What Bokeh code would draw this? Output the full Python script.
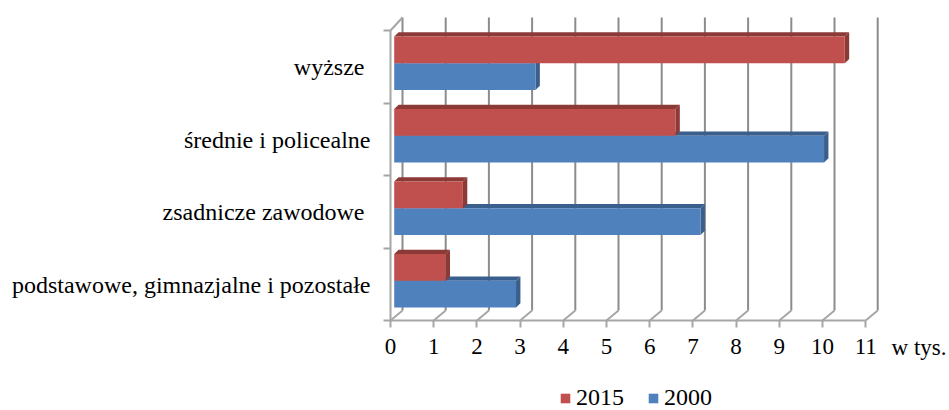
from bokeh.plotting import figure
from bokeh.models import Range1d, FixedTicker, Legend, LegendItem, Label
from bokeh.embed import file_html
from bokeh.resources import INLINE

categories = ["podstawowe, gimnazjalne i pozostałe", "zsadnicze zawodowe\u00a0", "średnie i policealne", "wyższe\u00a0"]
series_2015 = [1.19, 1.59, 6.51, 10.43]
series_2000 = [2.82, 7.09, 9.95, 3.27]
x_ticks = list(range(0, 12))
y_bounds = [0, 1, 2, 3, 4]
year_labels = ["2015", "2000"]
unit_label = "w tys."

RED, RED_DARK = "#C0504D", "#8C3A38"
BLUE, BLUE_DARK = "#4F81BD", "#3A5F8C"
GRID = "#8C8C8C"
AXIS = "#A6A6A6"
FONT = "Liberation Serif"

W, H = 949, 410
ORIGIN_X, ORIGIN_Y = 390, 320
PX_X, PX_Y = 43.2, 72.5
INSET = 3.7 / PX_X          # bars stand slightly off the wall
BAR_H = 26.8 / PX_Y
GAP = 13 / PX_Y
BAR_DX, BAR_DY = 4.4 / PX_X, 4.2 / PX_Y
WALL_DX, WALL_DY_B, WALL_DY_T = 12 / PX_X, 10 / PX_Y, 13 / PX_Y

p = figure(width=W, height=H, output_backend="svg", toolbar_location=None,
           x_range=Range1d(-ORIGIN_X / PX_X, (W - ORIGIN_X) / PX_X),
           y_range=Range1d(-(H - ORIGIN_Y) / PX_Y, ORIGIN_Y / PX_Y),
           min_border=0, outline_line_color=None)
p.grid.visible = False

# back wall gridlines and floor diagonals
top = max(y_bounds) + WALL_DY_T
gx = [t + WALL_DX for t in x_ticks]
p.segment(gx, [WALL_DY_B] * len(gx), gx, [top] * len(gx), line_color=GRID, line_width=2)
p.segment(x_ticks, [0] * len(gx), gx, [WALL_DY_B] * len(gx), line_color=AXIS, line_width=2)
p.segment([0], [max(y_bounds)], [WALL_DX], [top], line_color=AXIS, line_width=2)

def boxes(values, offset):
    bottoms = [i + GAP + offset for i in range(len(values))]
    tops = [b + BAR_H for b in bottoms]
    rights = [INSET + v for v in values]
    return bottoms, tops, rights

def draw_depth(values, offset, dark):
    b, t, r = boxes(values, offset)
    xs_top = [[INSET, ri, ri + BAR_DX, INSET + BAR_DX] for ri in r]
    ys_top = [[ti, ti, ti + BAR_DY, ti + BAR_DY] for ti in t]
    xs_side = [[ri, ri + BAR_DX, ri + BAR_DX, ri] for ri in r]
    ys_side = [[bi, bi + BAR_DY, ti + BAR_DY, ti] for bi, ti in zip(b, t)]
    p.patches(xs_top, ys_top, fill_color=dark, line_color=None)
    p.patches(xs_side, ys_side, fill_color=dark, line_color=None)

draw_depth(series_2000, 0, BLUE_DARK)
draw_depth(series_2015, BAR_H, RED_DARK)

b, t, r = boxes(series_2000, 0)
blue = p.quad(left=INSET, right=r, bottom=b, top=t, fill_color=BLUE, line_color=None)
b, t, r = boxes(series_2015, BAR_H)
red = p.quad(left=INSET, right=r, bottom=b, top=t, fill_color=RED, line_color=None)

# axes, fixed on the chart's origin inside the frame
xa = p.xaxis[0]
xa.fixed_location = 0
xa.ticker = FixedTicker(ticks=x_ticks)
xa.bounds = (0, 11)
xa.axis_line_color = AXIS
xa.axis_line_width = 2
xa.major_tick_line_color = AXIS
xa.major_tick_line_width = 2
xa.major_tick_in = 0
xa.major_tick_out = 7
xa.minor_tick_out = 0
xa.minor_tick_in = 0
xa.major_label_standoff = 11
xa.major_label_text_font = FONT
xa.major_label_text_font_size = "23px"
xa.major_label_text_color = "#000000"

ya = p.yaxis[0]
ya.fixed_location = 0
label_pos = [i + 0.5 - 0.5 / PX_Y for i in range(len(categories))]
ya.ticker = FixedTicker(ticks=label_pos, minor_ticks=y_bounds)
ya.major_label_overrides = {pos: c for pos, c in zip(label_pos, categories)}
ya.bounds = (0, 4)
ya.axis_line_color = AXIS
ya.axis_line_width = 2
ya.major_tick_in = 0
ya.major_tick_out = 0
ya.minor_tick_in = 0
ya.minor_tick_out = 7
ya.minor_tick_line_color = AXIS
ya.minor_tick_line_width = 2
ya.major_label_standoff = 13
ya.major_label_text_font = FONT
ya.major_label_text_font_size = "24px"
ya.major_label_text_color = "#000000"

p.add_layout(Label(x=11.6, y=-27 / PX_Y, text=unit_label, text_font=FONT, text_font_size="23px",
                   text_baseline="middle", text_color="#000000"))

legend = Legend(items=[LegendItem(label=year_labels[0], renderers=[red]),
                       LegendItem(label=year_labels[1], renderers=[blue])],
                orientation="horizontal", location=(559, -1), padding=0, margin=0,
                spacing=23, glyph_width=12, glyph_height=12, label_standoff=5,
                border_line_color=None, background_fill_alpha=0,
                label_text_font=FONT, label_text_font_size="24px", label_text_color="#000000")
p.add_layout(legend)

open("out.html", "w").write(file_html(p, INLINE))
